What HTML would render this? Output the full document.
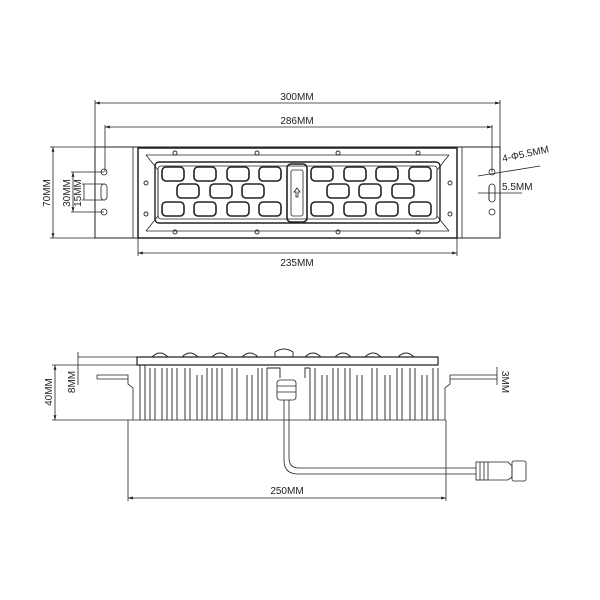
<!DOCTYPE html>
<html><head><style>html,body{margin:0;padding:0;background:#fff}svg{display:block}text{font-family:"Liberation Sans",sans-serif;font-size:10px;fill:#222}</style></head>
<body>
<svg width="600" height="600" viewBox="0 0 600 600" xmlns="http://www.w3.org/2000/svg">
<defs>
<marker id="a" viewBox="0 0 10 10" refX="10" refY="5" markerWidth="6" markerHeight="6" orient="auto-start-reverse"><path d="M0,2 L10,5 L0,8z" fill="#222"/></marker>
</defs>
<g stroke="#222" fill="none" stroke-width="0.8">
<!-- dimension lines top -->
<line x1="95" y1="103" x2="500" y2="103" marker-start="url(#a)" marker-end="url(#a)"/>
<line x1="95" y1="100" x2="95" y2="147"/><line x1="500" y1="100" x2="500" y2="147"/>
<line x1="105" y1="127" x2="492" y2="127" marker-start="url(#a)" marker-end="url(#a)"/>
<line x1="105" y1="125" x2="105" y2="172"/><line x1="492" y1="125" x2="492" y2="172"/>
<line x1="138" y1="253" x2="457" y2="253" marker-start="url(#a)" marker-end="url(#a)"/>
<line x1="138" y1="238" x2="138" y2="256"/><line x1="457" y1="238" x2="457" y2="256"/>
<line x1="53" y1="147" x2="53" y2="238" marker-start="url(#a)" marker-end="url(#a)"/>
<line x1="50" y1="147" x2="95" y2="147"/><line x1="50" y1="238" x2="95" y2="238"/>
<line x1="73" y1="172" x2="73" y2="212" marker-start="url(#a)" marker-end="url(#a)"/>
<line x1="71" y1="172" x2="104" y2="172"/><line x1="71" y1="212" x2="104" y2="212"/>
<line x1="84" y1="184" x2="84" y2="200"/>
<line x1="82" y1="184" x2="105" y2="184"/><line x1="82" y1="200" x2="105" y2="200"/>
<!-- plates -->
<rect x="95" y="147" width="405" height="91" stroke-width="1"/>
<line x1="133" y1="147" x2="133" y2="238"/><line x1="462" y1="147" x2="462" y2="238"/>
<rect x="138" y="148" width="319" height="90" stroke-width="1.5"/>
<path d="M146,155 L449,155 M146,231 L449,231 M146,155 L158,170 L158,216 L146,231 M449,155 L437,170 L437,216 L449,231" />
<rect x="155" y="162" width="285" height="61" rx="4" stroke-width="1.4"/>
<rect x="158" y="166" width="279" height="53" rx="3"/>
<circle cx="104" cy="172" r="3"/><circle cx="104" cy="212" r="3"/><rect x="101" y="184" width="6" height="16" rx="3"/>
<circle cx="492" cy="172" r="3"/><circle cx="492" cy="212" r="3"/><rect x="489" y="184" width="6" height="18" rx="3"/>
<g stroke-width="0.9">
<circle cx="175" cy="153" r="2"/><circle cx="257" cy="153" r="2"/><circle cx="338" cy="153" r="2"/><circle cx="418" cy="153" r="2"/>
<circle cx="175" cy="232" r="2"/><circle cx="257" cy="232" r="2"/><circle cx="338" cy="232" r="2"/><circle cx="418" cy="232" r="2"/>
<circle cx="146" cy="183" r="2"/><circle cx="146" cy="214" r="2"/><circle cx="450" cy="183" r="2"/><circle cx="450" cy="214" r="2"/>
</g>
<g stroke-width="1.6">
<rect x="162" y="167" width="22" height="14" rx="4"/><rect x="194" y="167" width="22" height="14" rx="4"/><rect x="227" y="167" width="22" height="14" rx="4"/><rect x="259" y="167" width="22" height="14" rx="4"/>
<rect x="177" y="184" width="22" height="14" rx="4"/><rect x="210" y="184" width="22" height="14" rx="4"/><rect x="242" y="184" width="22" height="14" rx="4"/>
<rect x="162" y="202" width="22" height="14" rx="4"/><rect x="194" y="202" width="22" height="14" rx="4"/><rect x="227" y="202" width="22" height="14" rx="4"/><rect x="259" y="202" width="22" height="14" rx="4"/>
<rect x="311" y="167" width="22" height="14" rx="4"/><rect x="344" y="167" width="22" height="14" rx="4"/><rect x="376" y="167" width="22" height="14" rx="4"/><rect x="409" y="167" width="22" height="14" rx="4"/>
<rect x="327" y="184" width="22" height="14" rx="4"/><rect x="359" y="184" width="22" height="14" rx="4"/><rect x="392" y="184" width="22" height="14" rx="4"/>
<rect x="311" y="202" width="22" height="14" rx="4"/><rect x="344" y="202" width="22" height="14" rx="4"/><rect x="376" y="202" width="22" height="14" rx="4"/><rect x="409" y="202" width="22" height="14" rx="4"/>
<rect x="287" y="164" width="20" height="58" rx="4"/>
</g>
<rect x="291" y="170" width="12" height="46" rx="2"/>
<path d="M297,188 L294,192 L296,192 L296,197 L298,197 L298,192 L300,192z"/>
<!-- annotations right -->
<line x1="478" y1="176" x2="540" y2="166"/>
<line x1="478" y1="193" x2="522" y2="193"/><line x1="489" y1="186" x2="489" y2="200"/>
<!-- side view -->
<path d="M137,365 L137,357 L438,357 L438,365 Z" stroke-width="1.2"/>
<g stroke-width="0.9">
<path d="M152,357 Q160,349 168,357"/><path d="M182,357 Q190,349 198,357"/><path d="M212,357 Q220,349 228,357"/><path d="M242,357 Q250,349 258,357"/>
<path d="M275,357 L275,352 Q284,346 293,352 L293,357"/>
<path d="M305,357 Q313,349 321,357"/><path d="M335,357 Q343,349 351,357"/><path d="M365,357 Q373,349 381,357"/><path d="M398,357 Q406,349 414,357"/>
</g>
<line x1="78" y1="365" x2="137" y2="365"/>
<path d="M97,375 L128,375 L128,384 L133,388 L133,420 L445,420 L445,388 L450,384 L450,375 L497,375"/>
<path d="M97,375 L97,379 M128,379 L97,379"/>
<path d="M450,379 L497,379"/>
<g stroke-width="0.9">
<path d="M140,365 V420 M145,365 V420 M150,368 V420 M155,368 V420 M162,368 V420 M167,368 V420 M172,368 V420 M177,368 V420 M185,368 V420 M190,368 V420 M197,375 V420 M202,375 V420 M207,368 V420 M212,368 V420 M217,368 V420 M222,368 V420 M232,368 V420 M237,368 V420 M247,375 V420 M252,375 V420 M258,368 V420 M262,368 V420 M267,368 V420"/>
<path d="M310,368 V420 M315,368 V420 M322,375 V420 M327,375 V420 M333,368 V420 M338,368 V420 M345,368 V420 M350,368 V420 M357,375 V420 M362,375 V420 M372,368 V420 M377,368 V420 M385,375 V420 M390,375 V420 M397,368 V420 M402,368 V420 M410,368 V420 M415,368 V420 M422,375 V420 M427,375 V420 M433,368 V420 M438,368 V420"/>
<path d="M267,368 L280,368 L280,378 M305,378 L305,368 L310,368"/>
</g>
<rect x="277" y="380" width="19" height="20" rx="3"/>
<line x1="277" y1="386" x2="296" y2="386"/><line x1="277" y1="392" x2="296" y2="392"/>
<path d="M284,400 L284,460 Q284,474 298,474 L476,474"/>
<path d="M289,400 L289,458 Q289,468 299,468 L476,468"/>
<rect x="476" y="462" width="12" height="18"/>
<path d="M488,462 L508,462 L512,466 L512,477 L508,480 L488,480"/>
<rect x="512" y="461" width="14" height="20" rx="2"/>
<line x1="480" y1="462" x2="480" y2="480"/><line x1="484" y1="462" x2="484" y2="480"/>
<line x1="55" y1="365" x2="55" y2="420" marker-start="url(#a)" marker-end="url(#a)"/>
<line x1="52" y1="365" x2="78" y2="365"/><line x1="52" y1="420" x2="133" y2="420"/>
<line x1="78" y1="352" x2="78" y2="385"/>
<line x1="78" y1="357" x2="137" y2="357"/>
<line x1="497" y1="367" x2="497" y2="385"/>
<line x1="128" y1="498" x2="446" y2="498" marker-start="url(#a)" marker-end="url(#a)"/>
<line x1="128" y1="420" x2="128" y2="501"/><line x1="446" y1="420" x2="446" y2="501"/>
</g>
<text x="297" y="100" text-anchor="middle">300MM</text>
<text x="297" y="124" text-anchor="middle">286MM</text>
<text x="297" y="266" text-anchor="middle">235MM</text>
<text x="287" y="494" text-anchor="middle">250MM</text>
<text transform="translate(50,193) rotate(-90)" text-anchor="middle">70MM</text>
<text transform="translate(70,193) rotate(-90)" text-anchor="middle" font-size="9">30MM</text>
<text transform="translate(81,193) rotate(-90)" text-anchor="middle" font-size="9">15MM</text>
<text transform="translate(52,392) rotate(-90)" text-anchor="middle">40MM</text>
<text transform="translate(75,382) rotate(-90)" text-anchor="middle">8MM</text>
<text transform="translate(502,382) rotate(90)" text-anchor="middle">3MM</text>
<text transform="translate(503,162) rotate(-12)">4-Φ5.5MM</text>
<text x="502" y="190">5.5MM</text>
</svg>
</body></html>
